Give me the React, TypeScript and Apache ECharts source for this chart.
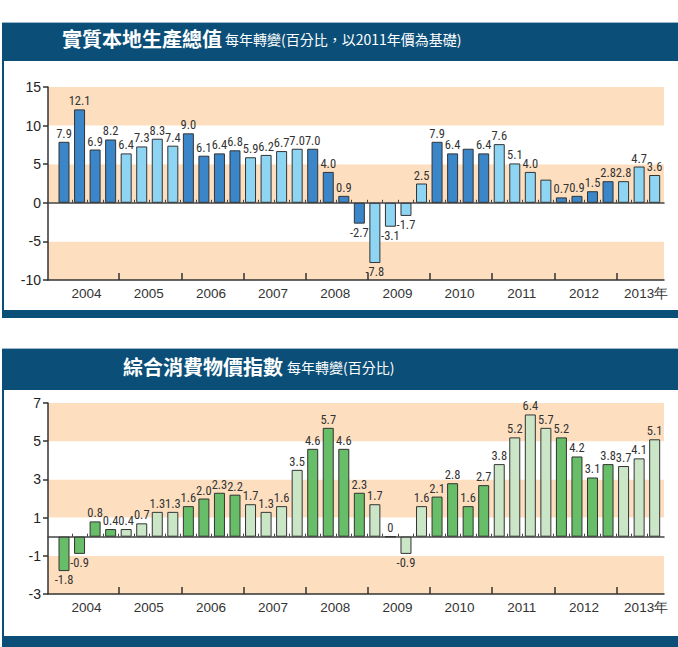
import React, { useEffect, useRef } from 'react';
import * as echarts from 'echarts';

// ---- data ----
const yearLabels = ['2004', '2005', '2006', '2007', '2008', '2009', '2010', '2011', '2012', '2013年'];

// 實質本地生產總值 – quarterly, 2004 Q1 .. 2013 Q3
const gdpValues = [
  7.9, 12.1, 6.9, 8.2,
  6.4, 7.3, 8.3, 7.4,
  9.0, 6.1, 6.4, 6.8,
  5.9, 6.2, 6.7, 7.0,
  7.0, 4.0, 0.9, -2.7,
  -7.8, -3.1, -1.7, 2.5,
  7.9, 6.4, 7.0, 6.4,
  7.6, 5.1, 4.0, 3.0,
  0.7, 0.9, 1.5, 2.8,
  2.8, 4.7, 3.6,
];
const gdpUnlabelled = [26, 31];
const gdpYTicks = { min: -10, max: 15, interval: 5 };

// 綜合消費物價指數 – quarterly, 2004 Q1 .. 2013 Q3
const cpiValues = [
  -1.8, -0.9, 0.8, 0.4,
  0.4, 0.7, 1.3, 1.3,
  1.6, 2.0, 2.3, 2.2,
  1.7, 1.3, 1.6, 3.5,
  4.6, 5.7, 4.6, 2.3,
  1.7, 0, -0.9, 1.6,
  2.1, 2.8, 1.6, 2.7,
  3.8, 5.2, 6.4, 5.7,
  5.2, 4.2, 3.1, 3.8,
  3.7, 4.1, 5.1,
];
const cpiUnlabelled: number[] = [];
const cpiYTicks = { min: -3, max: 7, interval: 2 };

// ---- styling ----
const HEADER = '#0b4f78';
const PEACH = '#fddfc0';
const NARROW = '"Liberation Sans Narrow", "Arial Narrow", "Roboto Condensed", "Liberation Sans", sans-serif';
const SANS = '"Liberation Sans", Arial, sans-serif';
const CJK = '"Noto Sans CJK TC", "Noto Sans CJK SC", sans-serif';

const X_MIN = -1.03;
const X_MAX = 38.6;
const LABEL_OFFSET = 1.45;
const TICK_OFFSET = 3.55;

const yearLabelPos = yearLabels.map((_, k) => LABEL_OFFSET + 4 * k);
const yearTickPos = yearLabels.slice(1).map((_, k) => TICK_OFFSET + 4 * k);

function makeBars(values: number[], dark: string, light: string, hidden: number[]) {
  return values.map((v, i) => ({
    value: [i, v],
    itemStyle: { color: Math.floor(i / 4) % 2 === 0 ? dark : light },
    label: { show: !hidden.includes(i), position: v < 0 ? 'bottom' : 'top' },
  }));
}

function makeXAxes(gridIndex: number, n: number) {
  const quarterTicks = Array.from({ length: n - 1 }, (_, i) => i + 0.5);
  return [
    {
      type: 'value', gridIndex, min: X_MIN, max: X_MAX, position: 'bottom',
      axisLine: { onZero: false, lineStyle: { color: '#333', width: 1.5 } },
      axisTick: { show: true, inside: true, length: 7, customValues: yearTickPos, lineStyle: { color: '#333', width: 1.5 } },
      axisLabel: {
        customValues: yearLabelPos,
        formatter: (v: number) => yearLabels[Math.round((v - LABEL_OFFSET) / 4)] ?? '',
        color: '#333', fontSize: 13.5, margin: 6, fontFamily: SANS,
      },
      splitLine: { show: false },
    },
    {
      type: 'value', gridIndex, min: X_MIN, max: X_MAX, position: 'top',
      axisLine: { onZero: true, lineStyle: { color: '#444', width: 1.5 } },
      axisTick: { show: true, inside: false, length: 3, customValues: quarterTicks, lineStyle: { color: '#444', width: 1 } },
      axisLabel: { show: false },
      splitLine: { show: false },
    },
  ];
}

function makeYAxis(gridIndex: number, t: { min: number; max: number; interval: number }) {
  return {
    type: 'value', gridIndex, min: t.min, max: t.max, interval: t.interval,
    axisLine: { show: true, onZero: false, lineStyle: { color: '#333', width: 1.5 } },
    axisTick: { show: true, length: 5, lineStyle: { color: '#333', width: 1.5 } },
    axisLabel: { color: '#222', fontSize: 14, margin: 7, fontFamily: SANS },
    splitLine: { show: false },
    splitArea: { show: true, areaStyle: { color: [PEACH, '#ffffff'] } },
  };
}

function makeSeries(xAxisIndex: number, yAxisIndex: number, data: any[]) {
  return {
    type: 'bar', xAxisIndex, yAxisIndex, barWidth: 11, data,
    itemStyle: { borderColor: '#333', borderWidth: 1 },
    label: {
      show: true, distance: 2, fontSize: 12.5, color: '#333', fontFamily: NARROW,
      formatter: (p: any) => { const v = p.value[1]; return v === 0 ? '0' : v.toFixed(1); },
    },
    z: 3,
  };
}

function panel(top: number, headerH: number, bottom: number, barH: number) {
  return [
    { type: 'rect', shape: { x: 2, y: top, width: 676, height: headerH }, style: { fill: HEADER } },
    { type: 'line', shape: { x1: 2, y1: top + 0.5, x2: 678, y2: top + 0.5 }, style: { stroke: '#9db8cc', lineWidth: 1 } },
    { type: 'rect', shape: { x: 2, y: top + headerH, width: 2, height: bottom - top - headerH }, style: { fill: HEADER } },
    { type: 'rect', shape: { x: 2, y: bottom, width: 676, height: barH }, style: { fill: HEADER } },
  ];
}

function titleText(x: number, y: number, text: string, size: number, bold: boolean) {
  return {
    type: 'text', x, y, z: 10,
    style: { text, fill: '#ffffff', fontSize: size, fontWeight: bold ? 'bold' : 'normal', fontFamily: CJK, verticalAlign: 'middle', align: 'left' },
  };
}

export default function App() {
  const ref = useRef<HTMLDivElement>(null);
  useEffect(() => {
    document.body.style.margin = '0';
    if (!ref.current) return;
    const chart = echarts.init(ref.current, undefined, { renderer: 'svg' });
    chart.setOption({
      animation: false,
      backgroundColor: '#ffffff',
      grid: [
        { left: 48, right: 14, top: 87, height: 193 },
        { left: 48, right: 14, top: 403, height: 191 },
      ],
      xAxis: [...makeXAxes(0, gdpValues.length), ...makeXAxes(1, cpiValues.length)],
      yAxis: [makeYAxis(0, gdpYTicks), makeYAxis(1, cpiYTicks)],
      series: [
        makeSeries(0, 0, makeBars(gdpValues, '#3a86c8', '#8dd5f3', gdpUnlabelled)),
        makeSeries(2, 1, makeBars(cpiValues, '#67bd68', '#cbe6c6', cpiUnlabelled)),
      ],
      graphic: [
        ...panel(22, 39, 310, 8),
        ...panel(348, 42, 636, 11),
        titleText(62, 38, '實質本地生產總值', 20, true),
        titleText(225, 39, '每年轉變(百分比，以2011年價為基礎)', 14, false),
        titleText(123, 366, '綜合消費物價指數', 20, true),
        titleText(287, 367, '每年轉變(百分比)', 14, false),
      ],
    });
    return () => chart.dispose();
  }, []);
  return <div ref={ref} style={{ position: 'absolute', left: 0, top: 0, width: 678, height: 647 }} />;
}
